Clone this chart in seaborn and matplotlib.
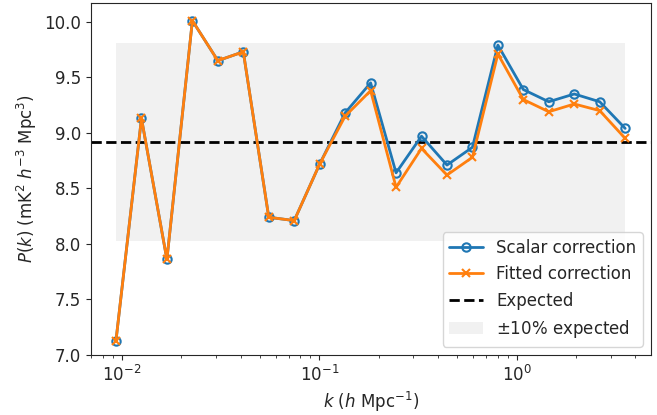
import numpy as np
import pandas as pd
import matplotlib
matplotlib.use("Agg")
import matplotlib.pyplot as plt
import seaborn as sns

# Wavenumber bins (h / Mpc)
k_vals = [0.00933, 0.01256, 0.01690, 0.02275, 0.03062, 0.04121, 0.05546,
          0.07464, 0.1005, 0.1352, 0.1820, 0.2449, 0.3296, 0.4436, 0.5970,
          0.8035, 1.081, 1.455, 1.959, 2.636, 3.548]

# Power spectrum estimates (mK^2 h^-3 Mpc^3)
p_scalar = [7.13, 9.13, 7.86, 10.01, 9.65, 9.73, 8.24, 8.21, 8.72, 9.18,
            9.45, 8.64, 8.97, 8.71, 8.87, 9.79, 9.39, 9.28, 9.35, 9.28, 9.04]
p_fitted = [7.13, 9.13, 7.86, 10.01, 9.65, 9.73, 8.24, 8.21, 8.72, 9.15,
            9.38, 8.51, 8.86, 8.62, 8.78, 9.71, 9.30, 9.19, 9.26, 9.20, 8.95]

p_expected = 8.92
tolerance = 0.10

sns.set_style("ticks")
plt.rcParams["font.family"] = ["DejaVu Sans"]

fig = plt.figure(figsize=(6.57, 4.15), dpi=100)
ax = fig.add_axes([0.1385, 0.1446, 0.8525, 0.8484])

df = pd.DataFrame({
    "k": k_vals * 2,
    "P": p_scalar + p_fitted,
    "method": ["Scalar correction"] * len(k_vals) + ["Fitted correction"] * len(k_vals),
})

sns.lineplot(data=df[df.method == "Scalar correction"], x="k", y="P", ax=ax,
             color="#1f77b4", marker="o", markerfacecolor="none",
             markeredgecolor="#1f77b4", markeredgewidth=1.5, markersize=6,
             linewidth=2, label="Scalar correction")
sns.lineplot(data=df[df.method == "Fitted correction"], x="k", y="P", ax=ax,
             color="#ff7f0e", marker="x", markeredgecolor="#ff7f0e",
             markeredgewidth=1.5, markersize=6,
             linewidth=2, label="Fitted correction")

ax.axhline(p_expected, color="black", linestyle="--", linewidth=2,
           label="Expected", zorder=1)
ax.fill_between(k_vals, p_expected * (1 - tolerance), p_expected * (1 + tolerance),
                color="lightgrey", alpha=0.3, linewidth=0,
                label=r"$\pm$10% expected", zorder=0)

ax.set_xscale("log")
ax.set_xlim(0.00697, 4.8)
ax.set_ylim(7.0, 10.17)
ax.set_yticks([7.0, 7.5, 8.0, 8.5, 9.0, 9.5, 10.0])
ax.set_xlabel(r"$k$ ($h$ Mpc$^{-1}$)", fontsize=12)
ax.set_ylabel(r"$P(k)$ (mK$^2$ $h^{-3}$ Mpc$^3$)", fontsize=12)
ax.tick_params(axis="both", which="major", labelsize=12)

ax.legend(loc="lower right", fontsize=12, frameon=True)

fig.savefig("out.png", dpi=100)
